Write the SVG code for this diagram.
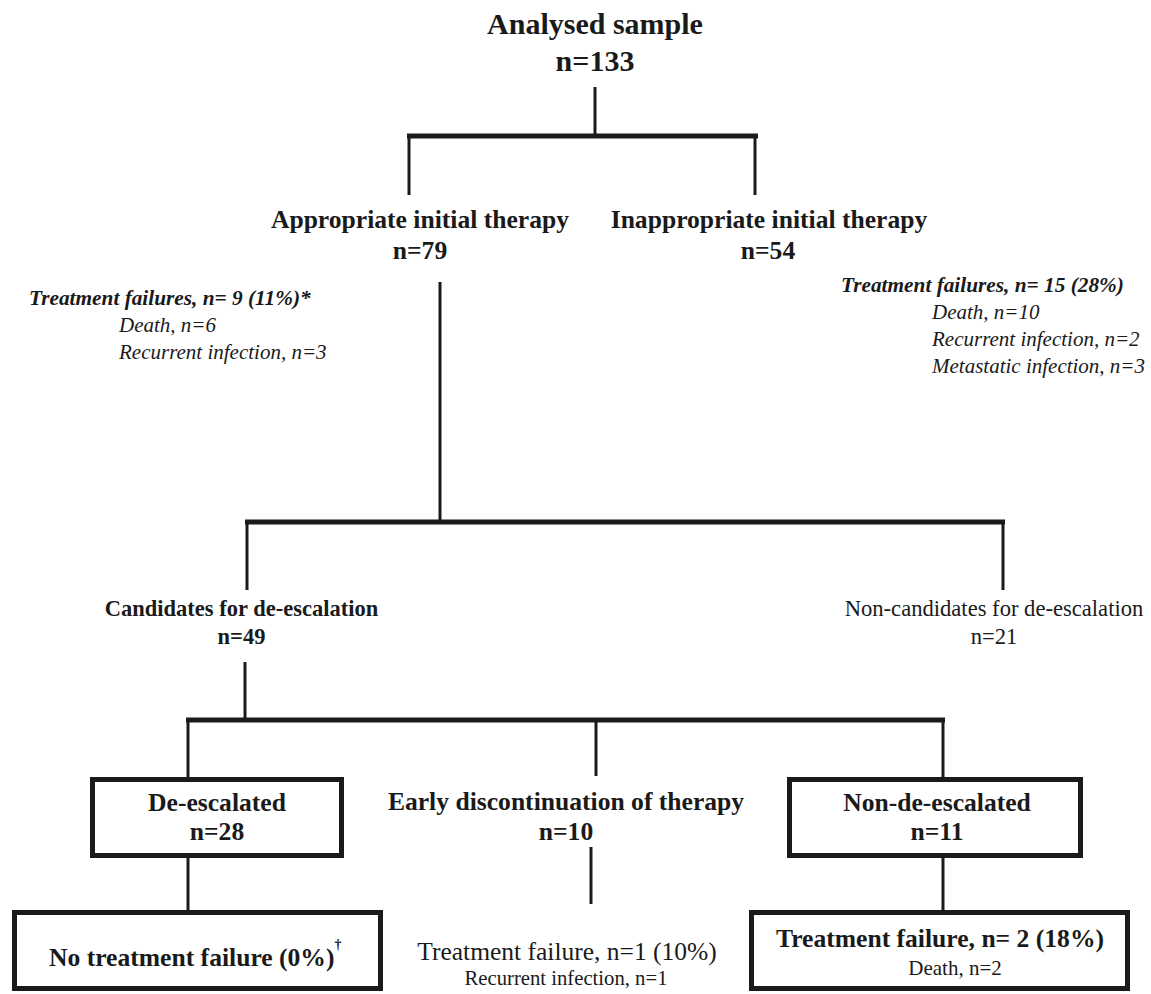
<svg xmlns="http://www.w3.org/2000/svg" width="1151" height="994" viewBox="0 0 1151 994">
<style>
text{font-family:"Liberation Serif","Times New Roman",serif;fill:#1a1a1a}
.b{font-weight:bold;font-size:25.6px;text-anchor:middle}
.t{font-weight:bold;font-size:30px;text-anchor:middle}
.r{font-size:22.6px;text-anchor:middle}
.bi{font-weight:bold;font-style:italic;font-size:21.3px}
.i{font-style:italic;font-size:21px}
.ln{stroke:#1a1a1a;stroke-width:3;fill:none}
.hl{stroke:#1a1a1a;stroke-width:5;fill:none}
.box{stroke:#1a1a1a;stroke-width:5;fill:#fff}
</style>
<rect width="1151" height="994" fill="#fff"/>
<g id="connectors">
<line class="ln" x1="595" y1="87" x2="595" y2="136"/>
<line class="hl" x1="407" y1="136" x2="758" y2="136"/>
<line class="ln" x1="409" y1="136" x2="409" y2="195"/>
<line class="ln" x1="755" y1="136" x2="755" y2="195"/>
<line class="ln" x1="440" y1="282" x2="440" y2="522"/>
<line class="hl" x1="245" y1="522" x2="1005" y2="522"/>
<line class="ln" x1="247" y1="522" x2="247" y2="590"/>
<line class="ln" x1="1003" y1="522" x2="1003" y2="590"/>
<line class="ln" x1="245" y1="662" x2="245" y2="720"/>
<line class="hl" x1="186" y1="720" x2="945" y2="720"/>
<line class="ln" x1="188" y1="720" x2="188" y2="778"/>
<line class="ln" x1="596" y1="720" x2="596" y2="776"/>
<line class="ln" x1="943" y1="720" x2="943" y2="778"/>
<line class="ln" x1="188" y1="858" x2="188" y2="911"/>
<line class="ln" x1="591" y1="847" x2="591" y2="904"/>
<line class="ln" x1="943" y1="858" x2="943" y2="911"/>
</g>
<g id="analysed">
<text class="t" x="595" y="34">Analysed sample</text>
<text class="t" x="595" y="71">n=133</text>
</g>
<g id="appropriate">
<text class="b" x="420" y="228">Appropriate initial therapy</text>
<text class="b" x="420" y="259">n=79</text>
</g>
<g id="inappropriate">
<text class="b" x="769" y="228">Inappropriate initial therapy</text>
<text class="b" x="768" y="259">n=54</text>
</g>
<g id="failures-appropriate">
<text class="bi" x="29" y="305">Treatment failures, n= 9 (11%)*</text>
<text class="i" x="119" y="332">Death, n=6</text>
<text class="i" x="119" y="359">Recurrent infection, n=3</text>
</g>
<g id="failures-inappropriate">
<text class="bi" x="841" y="292">Treatment failures, n= 15 (28%)</text>
<text class="i" x="932" y="319">Death, n=10</text>
<text class="i" x="932" y="346">Recurrent infection, n=2</text>
<text class="i" x="932" y="373">Metastatic infection, n=3</text>
</g>
<g id="candidates">
<text class="b" x="241.5" y="616" style="font-size:22.5px">Candidates for de-escalation</text>
<text class="b" x="241.5" y="644" style="font-size:22.5px">n=49</text>
</g>
<g id="non-candidates">
<text class="r" x="994" y="616">Non-candidates for de-escalation</text>
<text class="r" x="994" y="644">n=21</text>
</g>
<g id="de-escalated">
<rect class="box" x="92.5" y="779.5" width="249" height="76"/>
<text class="b" x="217" y="811">De-escalated</text>
<text class="b" x="217" y="840">n=28</text>
</g>
<g id="early-discontinuation">
<text class="b" x="566" y="810">Early discontinuation of therapy</text>
<text class="b" x="566" y="840">n=10</text>
</g>
<g id="non-de-escalated">
<rect class="box" x="789.5" y="779.5" width="291" height="76"/>
<text class="b" x="937" y="811">Non-de-escalated</text>
<text class="b" x="937" y="840">n=11</text>
</g>
<g id="no-failure">
<rect class="box" x="14.5" y="912.5" width="366" height="76"/>
<text class="b" x="49" y="966" style="text-anchor:start">No treatment failure (0%)<tspan dy="-17" style="font-size:14px">†</tspan></text>
</g>
<g id="early-failure">
<text class="r" x="567" y="960" style="font-size:25.5px">Treatment failure, n=1 (10%)</text>
<text class="r" x="566" y="985" style="font-size:20.7px">Recurrent infection, n=1</text>
</g>
<g id="non-de-failure">
<rect class="box" x="751.5" y="912.5" width="376" height="76"/>
<text class="b" x="940" y="947">Treatment failure, n= 2 (18%)</text>
<text class="r" x="955" y="975" style="font-size:21px">Death, n=2</text>
</g>
</svg>
